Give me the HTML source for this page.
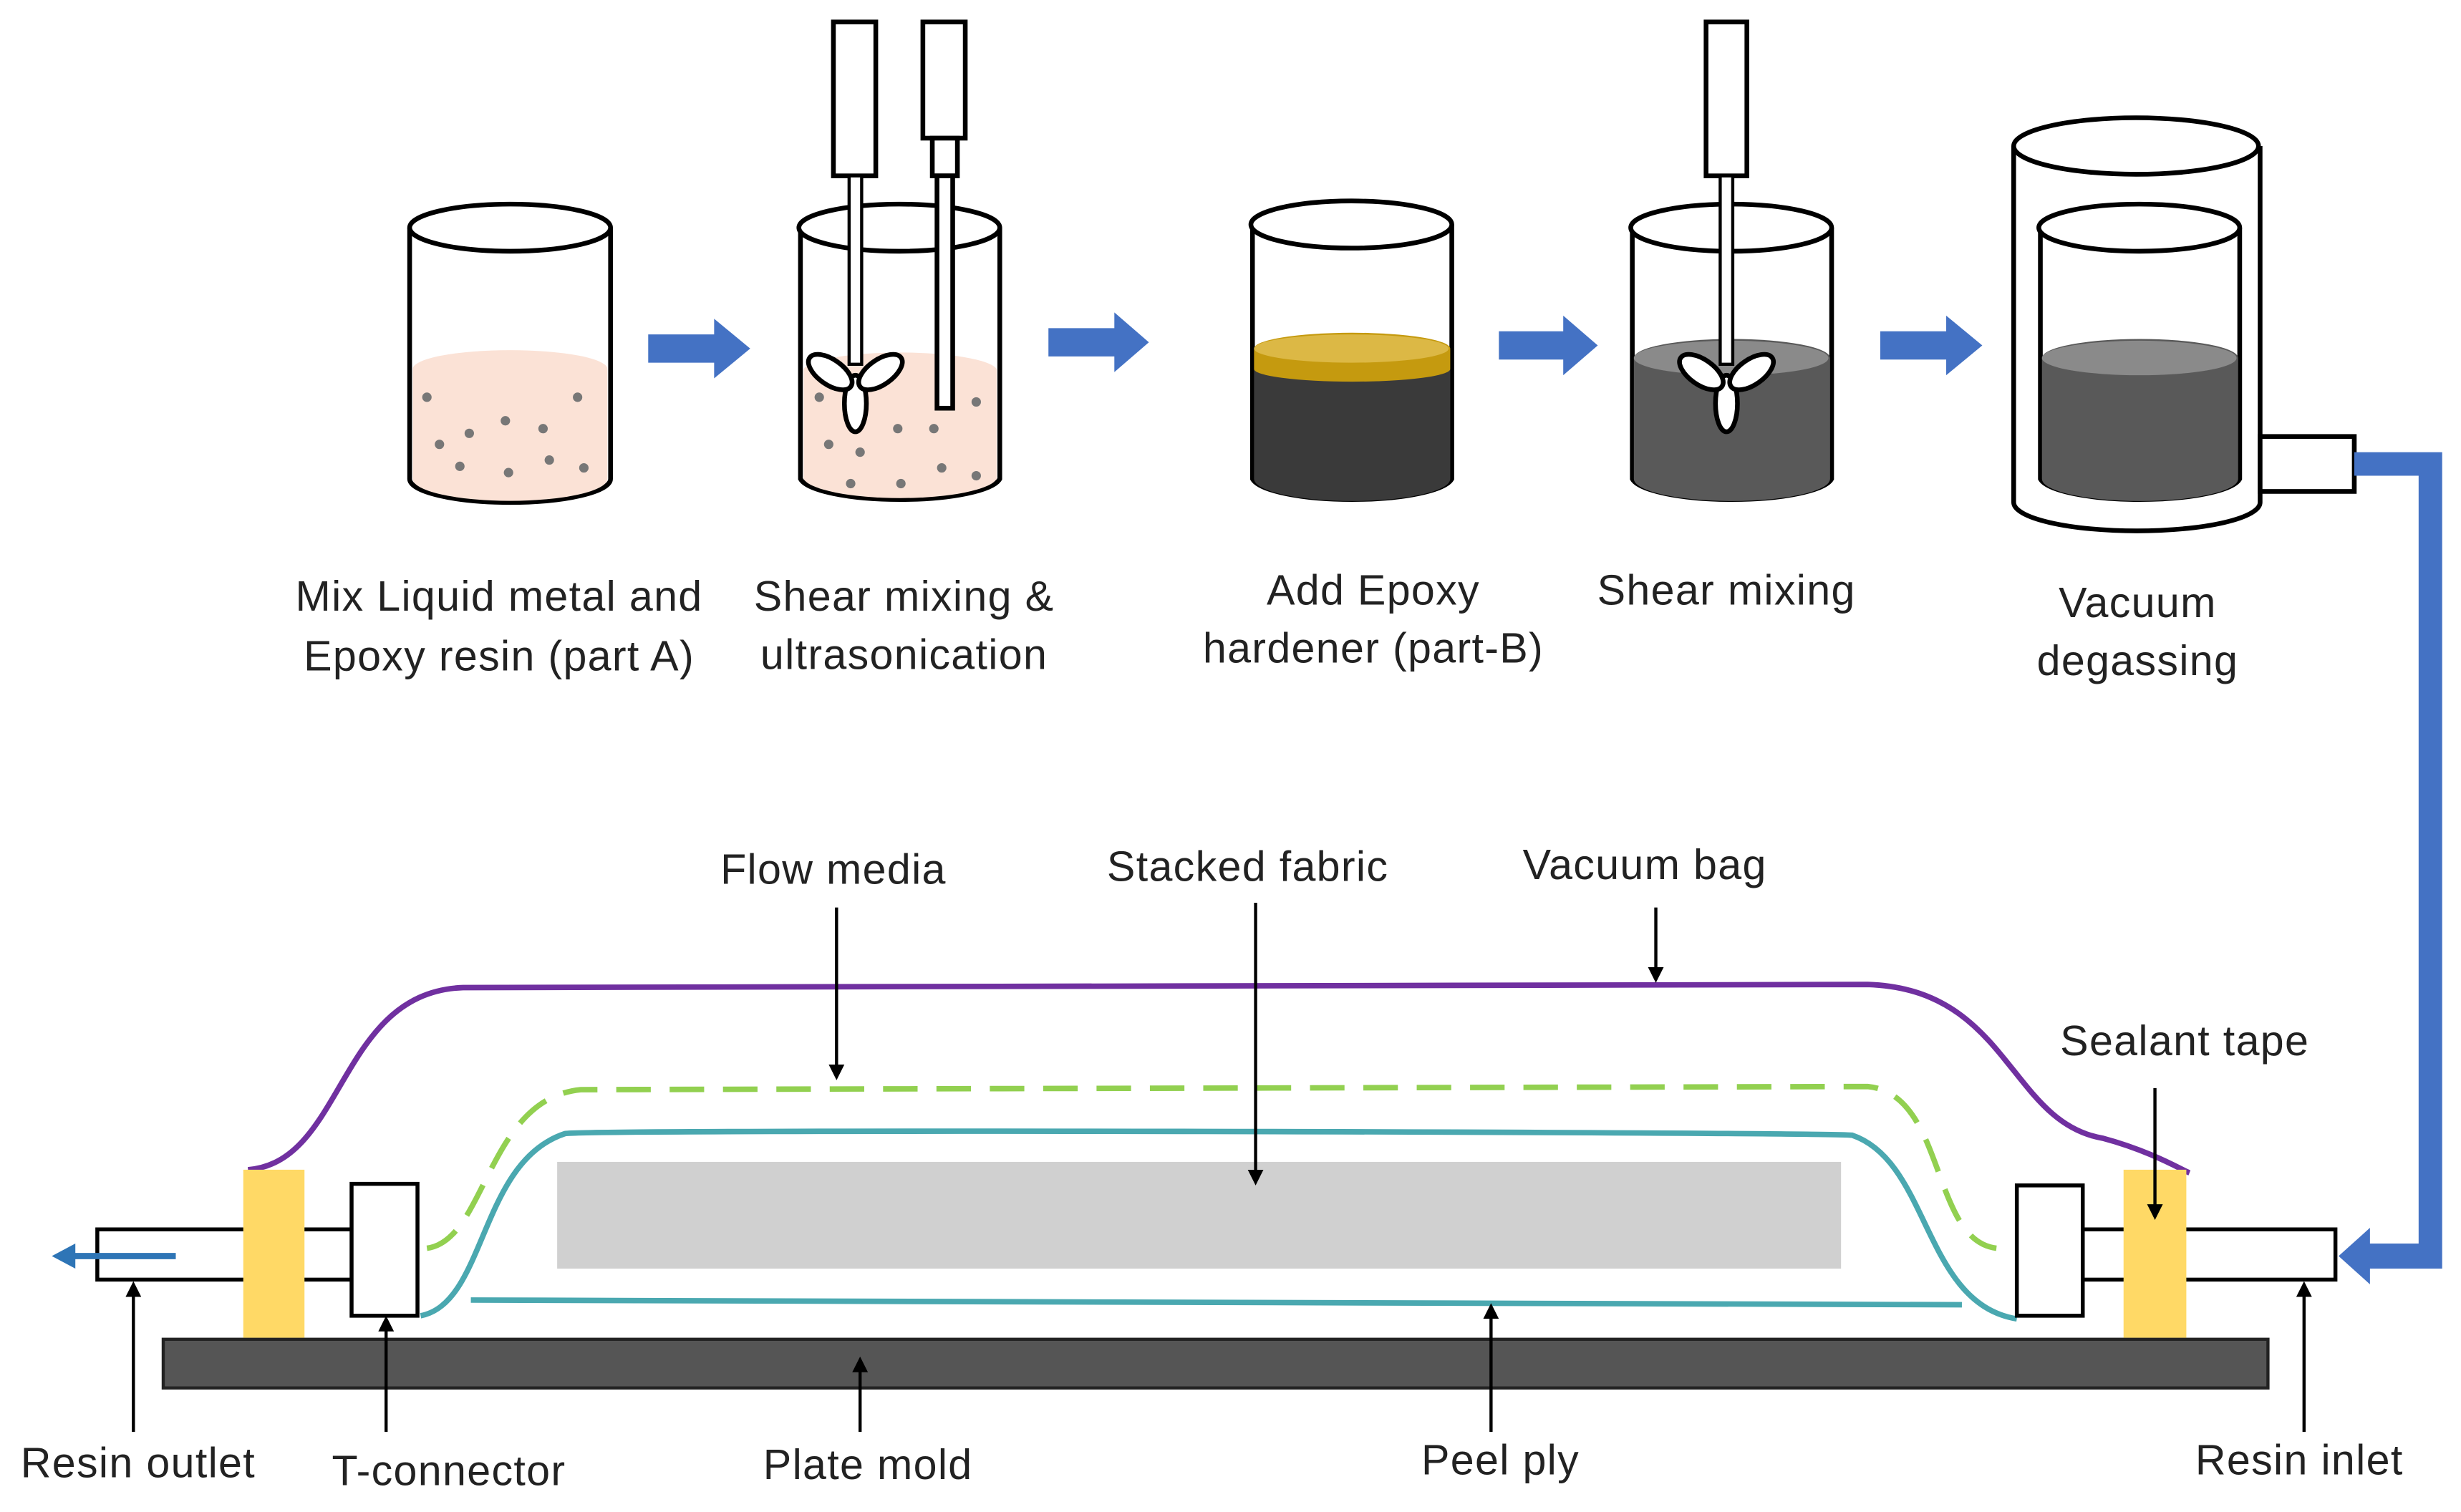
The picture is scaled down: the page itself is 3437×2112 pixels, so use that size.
<!DOCTYPE html>
<html><head><style>html,body{margin:0;padding:0;background:#fff}svg{display:block}text{font-family:"Liberation Sans",sans-serif;font-size:27px;letter-spacing:0.6px;fill:#222;text-anchor:middle}</style></head>
<body>
<svg width="3437" height="2112" viewBox="0 0 1568 963" preserveAspectRatio="none" xmlns="http://www.w3.org/2000/svg">
<defs>
<marker id="ah" markerWidth="10" markerHeight="10" refX="8" refY="5" orient="auto" markerUnits="userSpaceOnUse"><path d="M0,0 L10,5 L0,10 z" fill="#000"/></marker>
</defs>
<g stroke="#000" stroke-width="3" fill="#fff">
<path d="M261,145 V305 A64,15 0 0 0 389,305 V145" />
<path d="M263,235 A62,12 0 0 1 387,235 V305 A62,14 0 0 1 263,305 z" fill="#fbe2d6" stroke="none"/>
<ellipse cx="325" cy="145" rx="64" ry="15"/>
<path d="M510,145 V305 A64,15 0 0 0 637,305 V145" />
<path d="M512,235 A62,12 0 0 1 635,235 V305 A62,14 0 0 1 512,305 z" fill="#fbe2d6" stroke="none"/>
<ellipse cx="573" cy="145" rx="64" ry="15"/>
<rect x="531" y="14" width="27" height="98"/>
<rect x="541" y="112" width="8" height="120" stroke-width="2"/>
<ellipse cx="545" cy="257" rx="7" ry="18"/>
<ellipse cx="529" cy="237" rx="8" ry="16" transform="rotate(-55 529 237)"/>
<ellipse cx="561" cy="237" rx="8" ry="16" transform="rotate(55 561 237)"/>
<rect x="588" y="14" width="27" height="74"/>
<rect x="594" y="88" width="16" height="24"/>
<rect x="597" y="112" width="10" height="148"/>
<path d="M798,143 V305 A64,15 0 0 0 925,305 V143" />
<path d="M799,235 H924 V305 A62,14 0 0 1 799,305 z" fill="#3a3a3a" stroke="none"/>
<path d="M799,222 A62,10 0 0 1 924,222 V235 A62,8 0 0 1 799,235 z" fill="#c59a0f" stroke="none"/>
<ellipse cx="861" cy="222" rx="62" ry="9" fill="#dcb845" stroke="none"/>
<ellipse cx="861" cy="143" rx="64" ry="15"/>
<path d="M1040,145 V305 A64,15 0 0 0 1167,305 V145" />
<path d="M1041,228 A62,12 0 0 1 1166,228 V305 A62,14 0 0 1 1041,305 z" fill="#595959" stroke="none"/>
<ellipse cx="1103" cy="228" rx="62" ry="11" fill="#8a8a8a" stroke="none"/>
<ellipse cx="1103" cy="145" rx="64" ry="15"/>
<rect x="1087" y="14" width="26" height="98"/>
<rect x="1096" y="112" width="8" height="120" stroke-width="2"/>
<ellipse cx="1100" cy="257" rx="7" ry="18"/>
<ellipse cx="1084" cy="237" rx="8" ry="16" transform="rotate(-55 1084 237)"/>
<ellipse cx="1116" cy="237" rx="8" ry="16" transform="rotate(55 1116 237)"/>
<path d="M1283,93 V320 A78,18 0 0 0 1440,320 V93"/>
<ellipse cx="1361" cy="93" rx="78" ry="18"/>
<path d="M1300,145 V305 A64,15 0 0 0 1427,305 V145"/>
<path d="M1301,228 A62,12 0 0 1 1426,228 V305 A62,14 0 0 1 1301,305 z" fill="#595959" stroke="none"/>
<ellipse cx="1363" cy="228" rx="62" ry="11" fill="#8a8a8a" stroke="none"/>
<ellipse cx="1363" cy="145" rx="64" ry="15"/>
<rect x="1440" y="278" width="60" height="35"/>
</g>
<g fill="#777">
<circle cx="272" cy="253" r="3"/><circle cx="299" cy="276" r="3"/><circle cx="322" cy="268" r="3"/><circle cx="346" cy="273" r="3"/><circle cx="368" cy="253" r="3"/><circle cx="293" cy="297" r="3"/><circle cx="324" cy="301" r="3"/><circle cx="350" cy="293" r="3"/><circle cx="372" cy="298" r="3"/><circle cx="280" cy="283" r="3"/>
<circle cx="522" cy="253" r="3"/><circle cx="548" cy="288" r="3"/><circle cx="572" cy="273" r="3"/><circle cx="595" cy="273" r="3"/><circle cx="622" cy="256" r="3"/><circle cx="542" cy="308" r="3"/><circle cx="574" cy="308" r="3"/><circle cx="600" cy="298" r="3"/><circle cx="622" cy="303" r="3"/><circle cx="528" cy="283" r="3"/>
</g>
<g fill="#4472c4">
<path d="M413,213 H455 V203 L478,222 L455,241 V231 H413 z"/>
<path d="M668,209 H710 V199 L732,218 L710,237 V227 H668 z"/>
<path d="M955,211 H996 V201 L1018,220 L996,239 V229 H955 z"/>
<path d="M1198,211 H1240 V201 L1263,220 L1240,239 V229 H1198 z"/>
<path d="M1500,288 H1556 V808 H1510 V818 L1490,800 L1510,782 V792 H1541 V303 H1500 z"/>
</g>
<text x="318" y="389">Mix Liquid metal and</text>
<text x="318" y="427">Epoxy resin (part A)</text>
<text x="576" y="389">Shear mixing &amp;</text>
<text x="576" y="426">ultrasonication</text>
<text x="875" y="385">Add Epoxy</text>
<text x="875" y="422">hardener (part-B)</text>
<text x="1100" y="385">Shear mixing</text>
<text x="1362" y="393">Vacuum</text>
<text x="1362" y="430">degassing</text>
<rect x="104" y="853" width="1341" height="31" fill="#555" stroke="#222" stroke-width="2"/>
<rect x="355" y="740" width="818" height="68" fill="#d0d0d0"/>
<path d="M158,745 C220,740 215,632 295,629 L1190,627 C1280,630 1280,715 1340,725 C1370,733 1390,745 1395,747" fill="none" stroke="#7030a0" stroke-width="3.5"/>
<path d="M272,795 C310,790 310,700 370,694 L1190,692 C1240,697 1230,790 1272,795" fill="none" stroke="#92d050" stroke-width="3.5" stroke-dasharray="22,12"/>
<path d="M268,838 C310,830 305,740 360,722 C380,719 1150,721 1180,723 C1230,740 1225,830 1285,840 M300,828 L1250,831" fill="none" stroke="#4aa8b0" stroke-width="3.5"/>
<g stroke="#000" stroke-width="2.5" fill="#fff">
<rect x="62" y="783" width="163" height="32"/>
<rect x="1327" y="783" width="161" height="32"/>
<rect x="224" y="754" width="42" height="84"/>
<rect x="1285" y="755" width="42" height="83"/>
</g>
<rect x="155" y="745" width="39" height="107" fill="#ffd966"/>
<rect x="1353" y="745" width="40" height="107" fill="#ffd966"/>
<path d="M112,800 H45" stroke="#2e75b6" stroke-width="4"/>
<path d="M33,800 L48,792 L48,808 z" fill="#2e75b6"/>
<g stroke="#000" stroke-width="2" marker-end="url(#ah)">
<line x1="533" y1="578" x2="533" y2="686"/>
<line x1="800" y1="575" x2="800" y2="753"/>
<line x1="1055" y1="578" x2="1055" y2="624"/>
<line x1="1373" y1="693" x2="1373" y2="775"/>
<line x1="85" y1="912" x2="85" y2="818"/>
<line x1="246" y1="912" x2="246" y2="840"/>
<line x1="548" y1="912" x2="548" y2="866"/>
<line x1="950" y1="912" x2="950" y2="832"/>
<line x1="1468" y1="912" x2="1468" y2="818"/>
</g>
<text x="531" y="563">Flow media</text>
<text x="795" y="561">Stacked fabric</text>
<text x="1048" y="560">Vacuum bag</text>
<text x="1392" y="672">Sealant tape</text>
<text x="88" y="941">Resin outlet</text>
<text x="286" y="946">T-connector</text>
<text x="553" y="942">Plate mold</text>
<text x="956" y="939">Peel ply</text>
<text x="1465" y="939">Resin inlet</text>
</svg>
</body></html>
